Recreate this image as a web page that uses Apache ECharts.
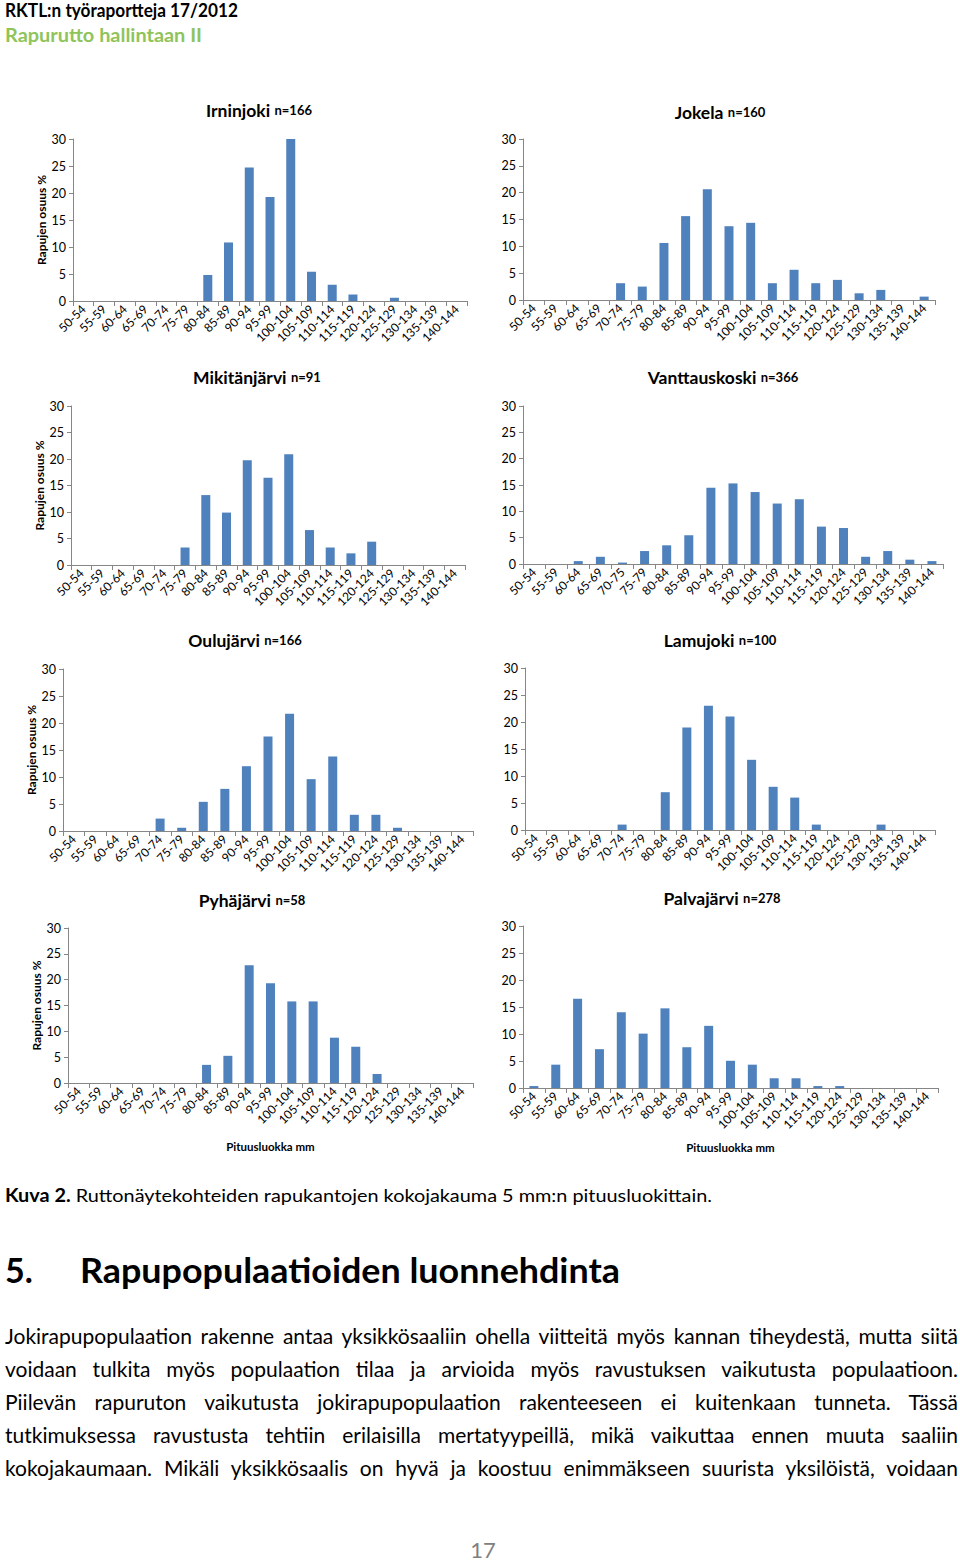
<!DOCTYPE html>
<html lang="fi">
<head>
<meta charset="utf-8">
<title>Kuva 2</title>
<script src="https://cdn.jsdelivr.net/npm/echarts@6/dist/echarts.min.js"></script>
<style>
html,body{margin:0;padding:0;background:#fff}
body{position:relative;width:960px;height:1563px;overflow:hidden;font-family:Lato,"Open Sans",sans-serif;color:#000}
#chart{position:absolute;left:0;top:0;width:960px;height:1170px}
.t{position:absolute;white-space:nowrap;transform-origin:0 0}
.pl{position:absolute;left:5px;white-space:nowrap;transform-origin:0 0;text-align:justify;text-align-last:justify;font-size:21px;line-height:33px;height:33px}
</style>
</head>
<body>
<div class="t" id="h1" style="left:5px;top:0px;font-size:18px;line-height:20px;font-weight:bold">RKTL:n työraportteja 17/2012</div>
<div class="t" id="h2" style="left:5px;top:24px;font-size:19px;line-height:21px;font-weight:bold;color:#8fc45a">Rapurutto hallintaan II</div>
<div id="chart"></div>
<div class="t" id="cap" style="left:5px;top:1185px;font-size:18px;line-height:20px"><b>Kuva 2.</b> Ruttonäytekohteiden rapukantojen kokojakauma 5 mm:n pituusluokittain.</div>
<div class="t" style="left:5px;top:1251px;font-size:34px;line-height:38px;font-weight:bold">5.</div>
<div class="t" id="hd" style="left:80px;top:1251px;font-size:34px;line-height:38px;font-weight:bold">Rapupopulaatioiden luonnehdinta</div>
<div class="pl" style="top:1319px"><span>Jokirapupopulaation rakenne antaa yksikkösaaliin ohella viitteitä myös kannan tiheydestä, mutta siitä</span></div>
<div class="pl" style="top:1352px"><span>voidaan tulkita myös populaation tilaa ja arvioida myös ravustuksen vaikutusta populaatioon.</span></div>
<div class="pl" style="top:1385px"><span>Piilevän rapuruton vaikutusta jokirapupopulaation rakenteeseen ei kuitenkaan tunneta. Tässä</span></div>
<div class="pl" style="top:1418px"><span>tutkimuksessa ravustusta tehtiin erilaisilla mertatyypeillä, mikä vaikuttaa ennen muuta saaliin</span></div>
<div class="pl" style="top:1451px"><span>kokojakaumaan. Mikäli yksikkösaalis on hyvä ja koostuu enimmäkseen suurista yksilöistä, voidaan</span></div>
<div class="t" style="left:0;width:966px;text-align:center;top:1537px;font-size:22px;line-height:26px;color:#808080">17</div>
<script>
// ---- data ----
const categories = ['50-54','55-59','60-64','65-69','70-74','75-79','80-84','85-89','90-94','95-99','100-104','105-109','110-114','115-119','120-124','125-129','130-134','135-139','140-144'];
const categoriesVanttauskoski = ['50-54','55-59','60-64','65-69','70-75','75-79','80-84','85-89','90-94','95-99','100-104','105-109','110-114','115-119','120-124','125-129','130-134','135-139','140-144'];
const siteNames = ['Irninjoki','Jokela','Mikitänjärvi','Vanttauskoski','Oulujärvi','Lamujoki','Pyhäjärvi','Palvajärvi'];
const siteN = ['n=166','n=160','n=91','n=366','n=166','n=100','n=58','n=278'];
const irninjoki     = [0,0,0,0,0,0,4.82,10.84,24.70,19.28,30.12,5.42,3.01,1.20,0,0.60,0,0,0];
const jokela        = [0,0,0,0,3.13,2.50,10.63,15.63,20.63,13.75,14.38,3.13,5.63,3.13,3.75,1.25,1.88,0,0.63];
const mikitanjarvi  = [0,0,0,0,0,3.30,13.19,9.89,19.78,16.48,20.88,6.59,3.30,2.20,4.40,0,0,0,0];
const vanttauskoski = [0,0,0.55,1.37,0.27,2.46,3.55,5.46,14.48,15.30,13.66,11.48,12.30,7.10,6.83,1.37,2.46,0.82,0.55];
const oulujarvi     = [0,0,0,0,2.30,0.60,5.40,7.80,12.00,17.50,21.70,9.60,13.80,3.00,3.00,0.60,0,0,0];
const lamujoki      = [0,0,0,0,1,0,7,19,23,21,13,8,6,1,0,0,1,0,0];
const pyhajarvi     = [0,0,0,0,0,0,3.51,5.26,22.81,19.30,15.79,15.79,8.77,7.02,1.75,0,0,0,0];
const palvajarvi    = [0.36,4.32,16.55,7.19,14.03,10.07,14.75,7.55,11.51,5.04,4.32,1.80,1.80,0.36,0.36,0,0,0,0];
const yTitle = 'Rapujen osuus %';
const xTitle = 'Pituusluokka mm';

// ---- layout (positions only) ----
const panels = [
  {data:irninjoki,     cats:categories,             g:[73,139,394,162],  t:[259,101], y:true,  x:false},
  {data:jokela,        cats:categories,             g:[523,139,412,161], t:[720,103], y:false, x:false},
  {data:mikitanjarvi,  cats:categories,             g:[71,406,394,159],  t:[257,368], y:true,  x:false},
  {data:vanttauskoski, cats:categoriesVanttauskoski,g:[523,406,420,158], t:[723,368], y:false, x:false},
  {data:oulujarvi,     cats:categories,             g:[63,669,410,162],  t:[245,631], y:true,  x:false},
  {data:lamujoki,      cats:categories,             g:[525,668,410,162], t:[720,631], y:false, x:false},
  {data:pyhajarvi,     cats:categories,             g:[68,928,405,155],  t:[252,891], y:true,  x:true, xg:57},
  {data:palvajarvi,    cats:categories,             g:[523,926,415,162], t:[722,889], y:false, x:true, xg:53}
];

const FONT = 'Lato, "Open Sans", sans-serif';
const option = {animation:false, textStyle:{fontFamily:FONT}, title:[], grid:[], xAxis:[], yAxis:[], series:[]};
panels.forEach((p,i)=>{
  option.title.push({
    text:'{a|'+siteNames[i]+'} {b|'+siteN[i]+'}', left:p.t[0], top:p.t[1], textAlign:'center', padding:0,
    textStyle:{rich:{a:{fontSize:17.5,fontWeight:'bold',color:'#000',fontFamily:FONT},b:{fontSize:13,fontWeight:'bold',color:'#000',fontFamily:FONT}}}
  });
  option.grid.push({left:p.g[0], top:p.g[1], width:p.g[2], height:p.g[3]});
  option.xAxis.push({
    gridIndex:i, type:'category', data:p.cats, boundaryGap:true,
    axisLine:{show:true,lineStyle:{color:'#868686',width:1}},
    axisTick:{show:true,length:5,interval:0,alignWithLabel:false,lineStyle:{color:'#868686'}},
    axisLabel:{interval:0,rotate:45,fontSize:12,color:'#000',margin:6,fontFamily:FONT},
    splitLine:{show:false},
    name:p.x?xTitle:'', nameLocation:'middle', nameGap:p.xg||40,
    nameTextStyle:{fontSize:11.5,fontWeight:'bold',color:'#000',fontFamily:FONT}
  });
  option.yAxis.push({
    gridIndex:i, type:'value', min:0, max:30, interval:5,
    axisLine:{show:true,lineStyle:{color:'#868686',width:1}},
    axisTick:{show:true,length:4,lineStyle:{color:'#868686'}},
    splitLine:{show:false},
    axisLabel:{fontSize:12.5,color:'#000',margin:7,fontFamily:FONT},
    name:p.y?yTitle:'', nameLocation:'middle', nameGap:26, nameRotate:90,
    nameTextStyle:{fontSize:12,fontWeight:'bold',color:'#000',fontFamily:FONT}
  });
  option.series.push({type:'bar', xAxisIndex:i, yAxisIndex:i, data:p.data, barWidth:9, silent:true, itemStyle:{color:'#4f81bd'}});
});

const chart = echarts.init(document.getElementById('chart'), null, {renderer:'svg'});
chart.setOption(option);

// ---- text fitting (Calibri-like widths) ----
function fitWidth(id, target){
  const el = document.getElementById(id);
  const w = el.getBoundingClientRect().width;
  if (w > 0) el.style.transform = 'scaleX(' + (target / w) + ')';
}
function layoutText(){
  fitWidth('h1', 233);
  fitWidth('h2', 197);
  fitWidth('cap', 707);
  fitWidth('hd', 540);
  const lines = document.querySelectorAll('.pl');
  let s = 1;
  lines.forEach(l => { const w = l.firstElementChild.getBoundingClientRect().width; s = Math.min(s, 953 / w); });
  lines.forEach(l => { l.style.width = (953 / s) + 'px'; l.style.transform = 'scaleX(' + s + ')'; });
}
layoutText();
</script>
</body>
</html>
